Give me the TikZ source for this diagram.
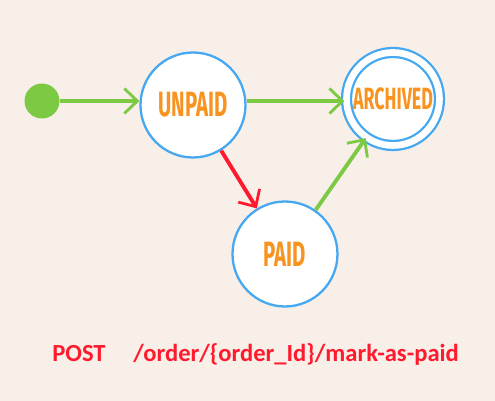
\documentclass[tikz,border=0pt]{standalone}
\usepackage{fontspec}
\setmainfont{Carlito}
\newfontfamily\statefont{Fira Sans}
\usepackage{graphicx}
\usepackage{xcolor}
\usetikzlibrary{positioning, arrows.meta}
\definecolor{hinter}{HTML}{F8EFE9}
\definecolor{rand}{HTML}{45A8F0}
\definecolor{schrift}{HTML}{F7931E}
\definecolor{gruen}{HTML}{7CC943}
\definecolor{rot}{HTML}{FF1A2E}
\newcommand{\schmal}[1]{\scalebox{0.58}[1]{#1}}
\tikzset{
    zustand/.style  = {circle, draw=rand, fill=white, line width=1.3pt,
                       minimum size=2.1cm, inner sep=0pt,
                       font=\statefont\fontsize{20}{20}\selectfont, text=schrift},
    endzustand/.style = {zustand, double=white, double distance=3.8pt, minimum size=1.86cm,
                       font=\statefont\fontsize{17.5}{17.5}\selectfont},
    start/.style    = {circle, fill=gruen, minimum size=0.7cm, inner sep=0pt},
    uebergang/.style = {-{Straight Barb[length=2.6mm, width=5mm, line width=1.6pt]},
                       line width=2.2pt, gruen},
    bezahlt/.style  = {uebergang, rot},
    pfad/.style     = {font=\bfseries\fontsize{14}{14}\selectfont, text=rot, inner sep=0pt}
}

\begin{document}
\begin{tikzpicture}[x=0.02cm, y=-0.02cm]
    \fill[hinter] (0,0) rectangle (495,401);
    \useasboundingbox (0,0) rectangle (495,401);

    % --- Zustaende ---
    \node[start]      (s0) at (42,101)  {};
    \node[zustand]    (s1) at (193,105) {\schmal{\bfseries UNPAID}};
    \node[endzustand] (s3) at (393,99)  {\schmal{\bfseries ARCHIVED}};
    \node[zustand]    (s2) at (285,254) {\schmal{\bfseries PAID}};

    \draw[uebergang] (s0) -- (s1.west |- s0);
    \draw[uebergang] (s1.east |- s0) -- ([xshift=-0.5pt]s3.west |- s0);
    \draw[bezahlt] (s1) -- (s2);
    \draw[uebergang] (s2) -- (s3);

    % --- Aufruf ---
    \node[pfad, anchor=base west] (verb) at (52,362) {POST};
    \node[pfad, anchor=base west] (url) at (133,362) {/order/\{order\_Id\}/mark-as-paid};
\end{tikzpicture}
\end{document}
